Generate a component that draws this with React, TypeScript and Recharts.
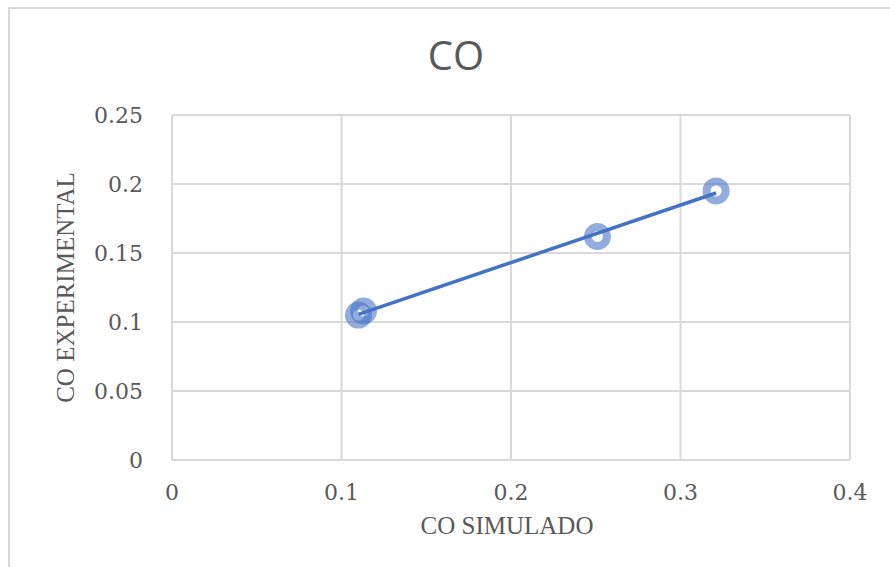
import { ScatterChart, Scatter, XAxis, YAxis, CartesianGrid } from 'recharts';

// Puntos medidos (CO simulado vs CO experimental)
const coSimulado = [0.11, 0.113, 0.251, 0.321];
const coExperimental = [0.105, 0.108, 0.162, 0.195];

// Línea de tendencia lineal (extremos)
const trendX = [0.11, 0.321];
const trendY = [0.1055, 0.1935];

const xTicks = [0, 0.1, 0.2, 0.3, 0.4];
const yTicks = [0, 0.05, 0.1, 0.15, 0.2, 0.25];

const points = coSimulado.map((x, i) => ({ x, y: coExperimental[i] }));
const trend = trendX.map((x, i) => ({ x, y: trendY[i] }));

const GRAY = '#595959';
const BLUE = '#4472C4';
const SERIF = "'DejaVu Serif', serif";
const SERIF_NARROW = "'Liberation Serif', serif";

const Marker = (props: any) => (
  <circle
    cx={props.cx}
    cy={props.cy}
    r={9.5}
    fill="none"
    stroke={BLUE}
    strokeOpacity={0.58}
    strokeWidth={8}
  />
);

export default function App() {
  return (
    <div style={{ position: 'absolute', left: 0, top: 0, width: 890, height: 567, background: '#fff', overflow: 'hidden' }}>
      {/* marco del gráfico */}
      <div style={{ position: 'absolute', left: 8, top: 7, width: 900, height: 600, borderLeft: '2px solid #d9d9d9', borderTop: '2px solid #d9d9d9' }} />
      <div style={{ position: 'absolute', left: 0, top: 30, width: 912, textAlign: 'center', fontFamily: "'Open Sans', sans-serif", fontSize: 40, color: GRAY, lineHeight: '50px' }}>
        CO
      </div>
      <ScatterChart width={890} height={567} margin={{ top: 115, right: 40, bottom: 37, left: 52 }} style={{ position: 'absolute', left: 0, top: 0 }}>
        <CartesianGrid stroke="#d9d9d9" strokeWidth={2} />
        <XAxis
          type="number"
          dataKey="x"
          domain={[0, 0.4]}
          ticks={xTicks}
          height={70}
          axisLine={false}
          tickLine={false}
          tickSize={0}
          tickMargin={24}
          tick={{ fill: GRAY, fontSize: 22, fontFamily: SERIF }}
          label={{
            content: ({ viewBox }: any) => (
              <text
                x={viewBox.x + viewBox.width / 2 - 4}
                y={viewBox.y + 74}
                textAnchor="middle"
                fill={GRAY}
                fontSize={25}
                fontFamily={SERIF_NARROW}
              >
                CO SIMULADO
              </text>
            ),
          }}
        />
        <YAxis
          type="number"
          dataKey="y"
          domain={[0, 0.25]}
          ticks={yTicks}
          width={120}
          axisLine={false}
          tickLine={false}
          tickSize={0}
          tickMargin={29}
          tick={{ fill: GRAY, fontSize: 22, fontFamily: SERIF }}
          label={{
            content: ({ viewBox }: any) => {
              const cx = viewBox.x + 13;
              const cy = viewBox.y + viewBox.height / 2;
              return (
                <text
                  x={cx}
                  y={cy}
                  dy="0.35em"
                  textAnchor="middle"
                  transform={`rotate(-90 ${cx} ${cy})`}
                  fill={GRAY}
                  fontSize={25}
                  fontFamily={SERIF_NARROW}
                >
                  CO EXPERIMENTAL
                </text>
              );
            },
          }}
        />
        <Scatter data={points} shape={<Marker />} isAnimationActive={false} />
        <Scatter
          data={trend}
          line={{ stroke: BLUE, strokeWidth: 3.5 }}
          shape={() => null}
          isAnimationActive={false}
        />
      </ScatterChart>
    </div>
  );
}
